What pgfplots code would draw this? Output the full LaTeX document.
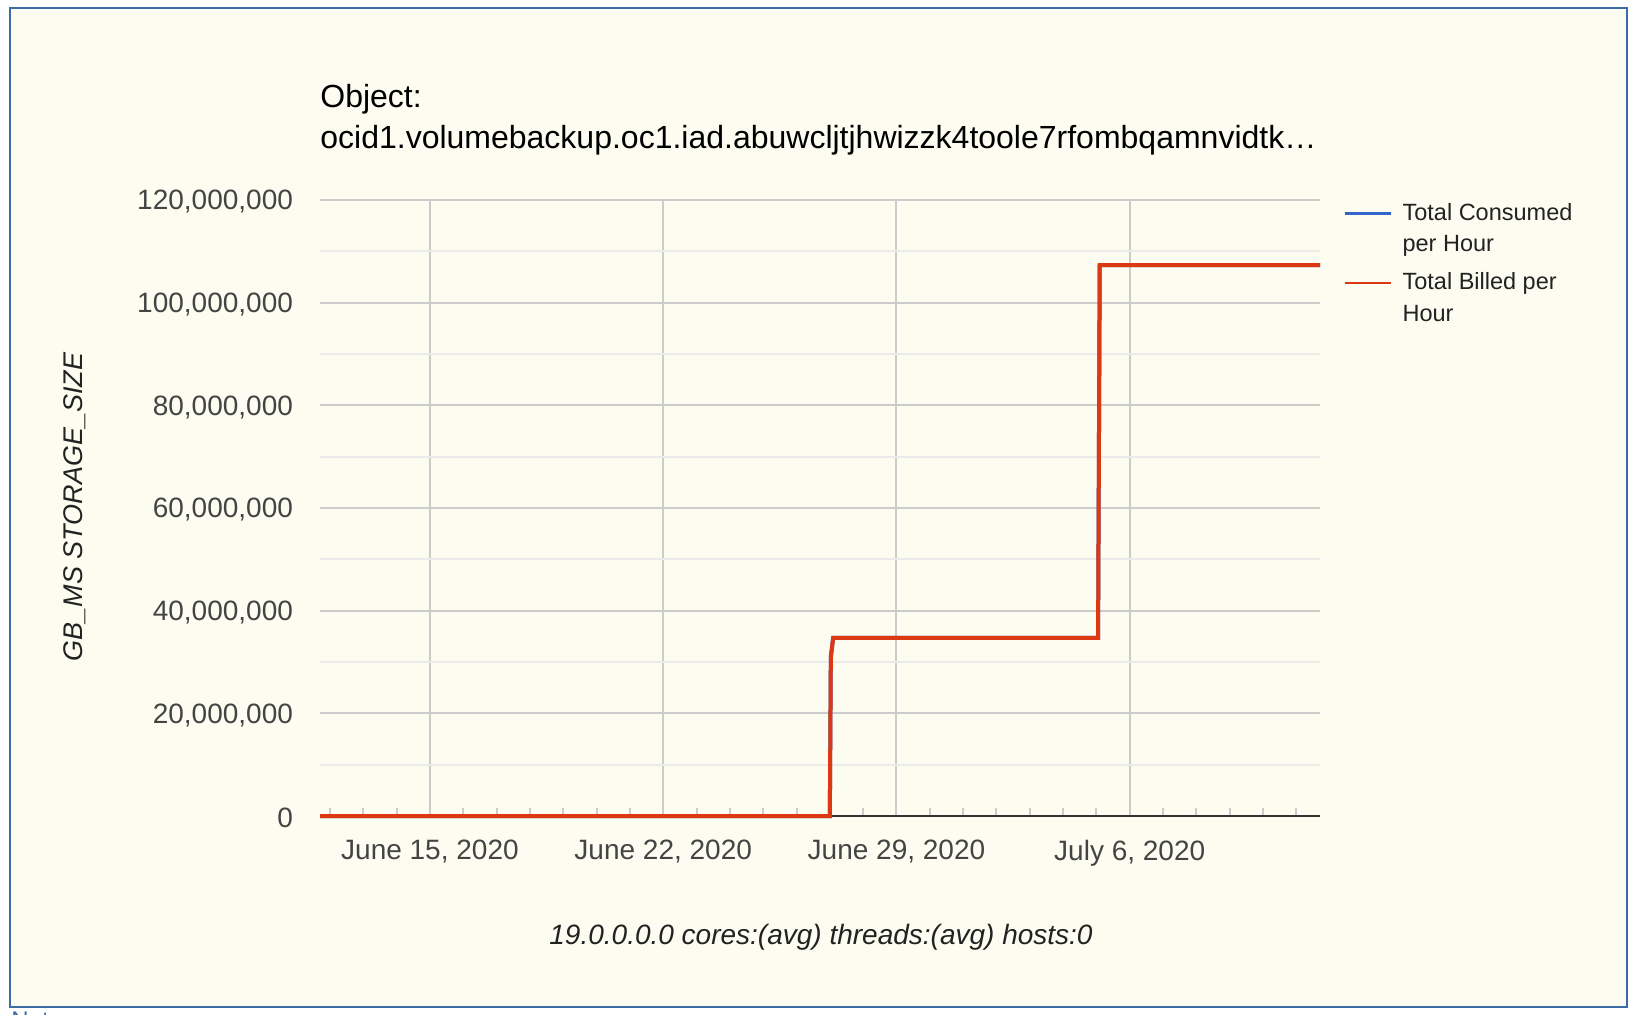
\documentclass[border=0pt]{standalone}
\usepackage{fontspec}
\setmainfont{Liberation Sans}
\usepackage{pgfplots}
\pgfplotsset{compat=1.18}
\definecolor{bgc}{HTML}{FCFCF0}
\definecolor{bord}{HTML}{3D6DA6}
\definecolor{cred}{HTML}{DC3912}
\definecolor{cblue}{HTML}{3366CC}
\definecolor{gridc}{HTML}{CCCCCC}
\definecolor{mgridc}{HTML}{EBEBEB}
\definecolor{tickc}{HTML}{444444}
\definecolor{txt}{HTML}{222222}
\begin{document}
\begin{tikzpicture}[x=1pt,y=1pt]
\fill[white] (0,0) rectangle (820,507);
\filldraw[fill=bgc, draw=bord, line width=1pt] (5,3.5) rectangle (813.5,503);
\begin{axis}[
  at={(160pt,99pt)}, anchor=south west,
  scale only axis, width=500pt, height=308pt,
  xmin=11.70, xmax=41.71, ymin=0, ymax=120000000,
  clip=false,
  axis x line*=bottom, axis y line*=left,
  y axis line style={draw=none},
  x axis line style={draw=black!80, line width=1pt},
  xtick={15,22,29,36},
  xticklabels={{June 15, 2020},{June 22, 2020},{June 29, 2020},{July 6, 2020}},
  minor xtick={12,...,41},
  ytick={0,20000000,40000000,60000000,80000000,100000000,120000000},
  minor ytick={10000000,30000000,50000000,70000000,90000000,110000000},
  major tick length=0pt,
  minor tick length=4pt,
  tick align=inside,
  x tick style={draw=gridc, line width=1pt},
  y tick style={draw=none},
  xmajorgrids, ymajorgrids, yminorgrids,
  major grid style={draw=gridc, line width=1pt},
  minor grid style={draw=mgridc, line width=1pt},
  scaled y ticks=false,
  ticklabel style={font=\fontsize{14}{16}\selectfont, text=tickc},
  xticklabel style={yshift=-8.6pt},
  yticklabel style={xshift=-10pt, yshift=-1pt},
  /pgf/number format/fixed,
  /pgf/number format/precision=0,
  /pgf/number format/1000 sep={,},
  /pgf/number format/assume math mode=true,
  legend style={at={(1,1)}, anchor=north west, xshift=11.5pt, yshift=0.5pt,
    draw=none, fill=none, inner sep=0pt, row sep=5pt,
    font=\fontsize{11.75}{15.7}\selectfont, text=txt,
    cells={anchor=west, align=left}},
  legend image code/.code={\draw[#1, line width=1.2pt] (0pt,7.85pt) -- (23pt,7.85pt); \path (26pt,7.85pt);},
]
\addplot[cblue, line width=2pt] coordinates {(11.70,0) (27.0,0) (27.03,31000000) (27.1,34700000) (35.05,34700000) (35.1,107300000) (41.71,107300000)};
\addlegendentry{Total Consumed\\per Hour}
\addplot[cred, line width=2pt] coordinates {(11.70,0) (27.0,0) (27.03,31000000) (27.1,34700000) (35.05,34700000) (35.1,107300000) (41.71,107300000)};
\addlegendentry{Total Billed per\\Hour}
\end{axis}
\node[anchor=base west, font=\fontsize{16}{20}\selectfont, text=black, inner sep=0pt] at (160,453) {Object:};
\node[anchor=base west, font=\fontsize{16}{20}\selectfont, text=black, inner sep=0pt] at (160,432.7) {ocid1.volumebackup.oc1.iad.abuwcljtjhwizzk4toole7rfombqamnvidtk…};
\node[rotate=90, font=\itshape\fontsize{13.5}{16}\selectfont, text=txt] at (37.6,253.5) {GB\_MS STORAGE\_SIZE};
\node[font=\itshape\fontsize{14}{16}\selectfont, text=txt] at (410.5,38.5) {19.0.0.0.0 cores:(avg) threads:(avg) hosts:0};
\begin{scope}
\clip (0,0) rectangle (820,507);
\node[anchor=north west, text=bord, font=\fontsize{12}{14}\selectfont, inner sep=0pt] at (5.5,1.2) {Note};
\end{scope}
\pgfresetboundingbox
\useasboundingbox (0,0) rectangle (820,507);
\end{tikzpicture}
\end{document}
